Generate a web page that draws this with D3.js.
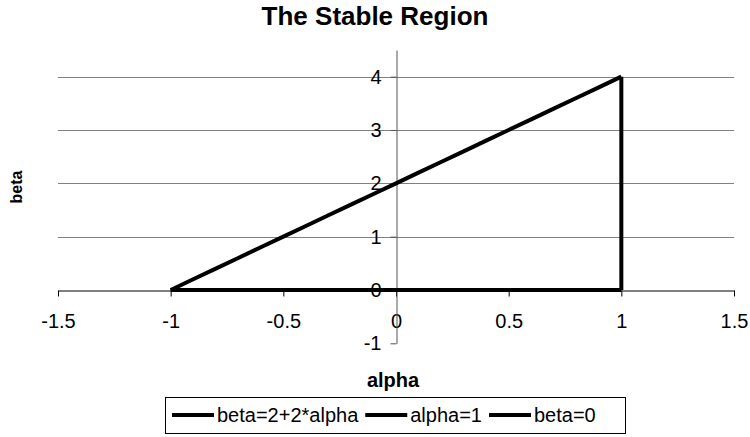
<!DOCTYPE html>
<html><head><meta charset="utf-8">
<script src="https://cdn.jsdelivr.net/npm/d3@7"></script>
<style>
body{margin:0;background:#fff;}
text{font-family:"Liberation Sans",Arial,sans-serif;}
</style></head>
<body><svg id="c" width="750" height="437"></svg>
<script>
const title = "The Stable Region";
const xLabel = "alpha";
const yLabel = "beta";
const xTicks = [-1.5, -1, -0.5, 0, 0.5, 1, 1.5];
const yTicks = [-1, 0, 1, 2, 3, 4];
const gridValues = [1, 2, 3, 4];
const seriesNames = ["beta=2+2*alpha", "alpha=1", "beta=0"];
const lineAlpha = [-1, -0.9, -0.8, -0.7, -0.6, -0.5, -0.4, -0.3, -0.2, -0.1, 0, 0.1, 0.2, 0.3, 0.4, 0.5, 0.6, 0.7, 0.8, 0.9, 1];
const lineBeta  = [0, 0.2, 0.4, 0.6, 0.8, 1, 1.2, 1.4, 1.6, 1.8, 2, 2.2, 2.4, 2.6, 2.8, 3, 3.2, 3.4, 3.6, 3.8, 4];
const vertAlpha = [1, 1];
const vertBeta  = [0, 4];
const baseAlpha = [-1, 1];
const baseBeta  = [0, 0];

const svg = d3.select("#c");
const x = d3.scaleLinear().domain([-1.5, 1.5]).range([58, 734]);
const y = d3.scaleLinear().domain([-1, 4.5]).range([343.3, 50]);

// title
svg.append("text").attr("x", 375).attr("y", 25).attr("text-anchor", "middle")
  .style("font-size", "26px").style("font-weight", "bold").text(title);

// gridlines
svg.append("g").selectAll("line").data(gridValues).join("line")
  .attr("x1", x(-1.5)).attr("x2", x(1.5))
  .attr("y1", d => Math.round(y(d)) + 0.5).attr("y2", d => Math.round(y(d)) + 0.5)
  .attr("stroke", "#808080").attr("stroke-width", 1);

const fmt = d => String(d);

// x axis at beta=0
const xa = svg.append("g").attr("transform", `translate(0,${Math.round(y(0)) + 0.5})`)
  .call(d3.axisBottom(x).tickValues(xTicks).tickFormat(fmt).tickSize(6).tickSizeOuter(0).tickPadding(17));
xa.select(".domain").attr("stroke", "#000");
xa.selectAll(".tick line").attr("stroke", "#000");
xa.selectAll("text").style("font-size", "20px").attr("font-family", null).attr("fill", "#000");

// y axis at alpha=0
const ya = svg.append("g").attr("transform", `translate(${Math.round(x(0)) + 0.5},0)`)
  .call(d3.axisLeft(y).tickValues(yTicks).tickFormat(fmt).tickSize(6).tickSizeOuter(0).tickPadding(9));
ya.select(".domain").attr("stroke", "#555");
ya.selectAll(".tick line").attr("stroke", "#555");
ya.selectAll("text").style("font-size", "20px").attr("font-family", null).attr("fill", "#000");

// axis titles
svg.append("text").attr("x", 393).attr("y", 387).attr("text-anchor", "middle")
  .style("font-size", "20px").style("font-weight", "bold").text(xLabel);
svg.append("text").attr("transform", "translate(22,187) rotate(-90)").attr("text-anchor", "middle")
  .style("font-size", "16px").style("font-weight", "bold").text(yLabel);

// series
const line = d3.line().x(d => x(d[0])).y(d => y(d[1]));
const series = [
  d3.zip(lineAlpha, lineBeta),
  d3.zip(vertAlpha, vertBeta),
  d3.zip(baseAlpha, baseBeta)
];
svg.append("g").selectAll("path").data(series).join("path")
  .attr("d", line).attr("fill", "none").attr("stroke", "#000")
  .attr("stroke-width", 4).attr("stroke-linejoin", "round");

// legend
const lg = svg.append("g");
lg.append("rect").attr("x", 165.5).attr("y", 397.5).attr("width", 460).attr("height", 36)
  .attr("fill", "#fff").attr("stroke", "#000");
let cx = 172;
seriesNames.forEach(name => {
  lg.append("line").attr("x1", cx).attr("x2", cx + 42).attr("y1", 415).attr("y2", 415)
    .attr("stroke", "#000").attr("stroke-width", 4);
  const t = lg.append("text").attr("x", cx + 45).attr("y", 422).style("font-size", "20px").text(name);
  cx += 45 + t.node().getComputedTextLength() + 7;
});
</script></body></html>
